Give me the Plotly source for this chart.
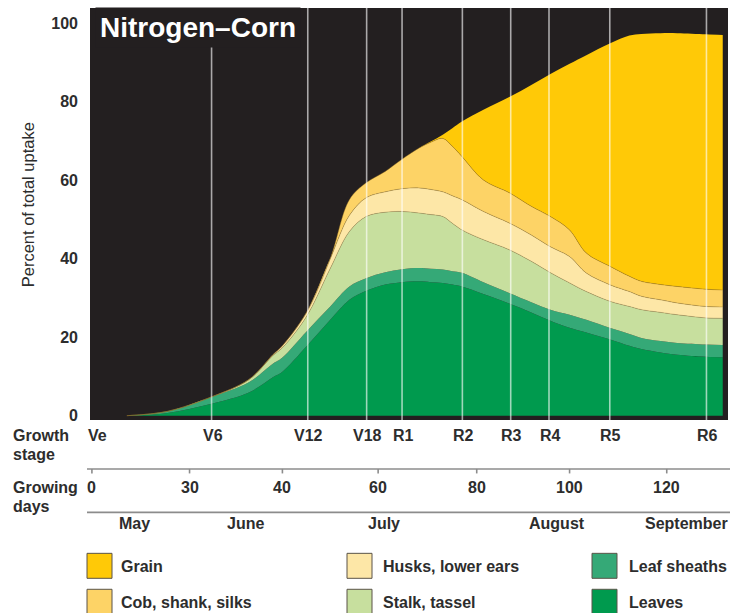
import plotly.graph_objects as go

# ---------------- data ----------------
DAYS = [7.5, 16, 25, 33, 38, 40, 45, 50, 54, 57.5, 61.5, 65, 68.5, 71, 73.5, 75.5, 77.5, 82,
        87.5, 92, 96, 100, 103.5, 108.5, 112.5, 115, 119, 122.5, 128.5, 132]

# cumulative upper edge of each layer (percent of total uptake)
LEAVES_TOP = [0, 0.7, 3.0, 5.9, 9.8, 11.2, 17.6, 24.4, 29.5, 31.8, 33.4, 34.0, 34.2, 34.0, 33.8, 33.4,
              32.9, 31.0, 28.5, 26.3, 24.2, 22.4, 21.2, 19.4, 17.8, 17.0, 16.1, 15.5, 15.0, 14.9]
SHEATHS_TOP = [0, 1.1, 4.7, 8.5, 13.2, 14.8, 21.4, 27.8, 32.9, 35.0, 36.5, 37.3, 37.6, 37.4, 37.2, 36.8,
               36.4, 34.0, 31.2, 28.9, 27.0, 25.7, 24.4, 22.3, 20.8, 19.8, 19.0, 18.5, 18.1, 18.0]
STALK_TOP = [0, 1.1, 4.7, 9.2, 15.3, 17.3, 25.2, 37.5, 46.9, 50.7, 51.8, 52.0, 51.6, 51.2, 50.7, 49.0,
             47.3, 44.8, 42.2, 39.3, 36.4, 33.8, 31.6, 29.1, 27.8, 27.0, 26.3, 25.7, 24.9, 24.8]
HUSKS_TOP = [0, 1.1, 4.7, 9.2, 15.5, 17.8, 26.2, 40.0, 51.0, 55.5, 57.0, 57.8, 58.0, 57.6, 57.0, 56.0,
             55.0, 52.0, 49.0, 46.0, 43.0, 40.5, 36.3, 33.3, 31.6, 30.4, 29.5, 28.7, 27.8, 27.7]
COB_TOP = [0, 1.1, 4.7, 9.2, 15.5, 17.8, 26.2, 40.0, 55.0, 59.3, 62.2, 65.3, 68.1, 69.6, 70.6, 68.6,
           66.0, 60.0, 56.7, 53.3, 50.7, 47.3, 41.4, 38.0, 35.5, 34.2, 33.4, 32.9, 32.2, 32.0]
GRAIN_TOP = [0, 1.1, 4.7, 9.2, 15.5, 17.8, 26.2, 40.0, 55.0, 59.3, 62.2, 65.3, 68.1, 69.8, 71.5, 73.2,
             74.9, 77.9, 81.2, 84.2, 87.0, 89.6, 91.8, 94.8, 96.8, 97.2, 97.4, 97.4, 97.1, 96.9]

LAYER_NAMES = ["Leaves", "Leaf sheaths", "Stalk, tassel", "Husks, lower ears",
               "Cob, shank, silks", "Grain"]
LAYER_TOPS = [LEAVES_TOP, SHEATHS_TOP, STALK_TOP, HUSKS_TOP, COB_TOP, GRAIN_TOP]

STAGE_LABELS = ["Ve", "V6", "V12", "V18", "R1", "R2", "R3", "R4", "R5", "R6"]
STAGE_DAYS = [0, 25.2, 45.3, 57.6, 65.0, 77.6, 87.7, 95.7, 108.4, 128.6]

DAY_TICK_LABELS = ["0", "30", "40", "60", "80", "100", "120"]
DAY_TICK_POS = [0.2, 20.6, 40.0, 60.0, 80.6, 100.0, 120.3]

MONTHS = ["May", "June", "July", "August", "September"]
MONTH_POS = [9.2, 32.3, 61.2, 97.3, 124.4]

Y_TICKS = [0, 20, 40, 60, 80, 100]

# ---------------- style ----------------
FILLS = ["#009A4E", "#35A977", "#C7DF9E", "#FDE7A7", "#FDD366", "#FFC907"]
EDGE = ["rgba(0,0,0,0)", "rgba(0,0,0,0)", "rgba(140,120,60,0.45)",
        "rgba(150,120,50,0.5)", "rgba(150,110,30,0.5)", "rgba(0,0,0,0)"]
EDGE_W = [0, 0, 0.8, 0.8, 0.8, 0]
BG = "#231F20"
TXT = "#2d2d2d"
FONT = "Liberation Sans"

W, H = 730, 613
L, R, T, B = 90, 2, 8, 192.5
PW, PH = W - L - R, H - T - B


def pxx(X):
    return (X - L) / PW


def pxy(Y):
    return (H - B - Y) / PH


fig = go.Figure()
for i, (name, top) in enumerate(zip(LAYER_NAMES, LAYER_TOPS)):
    fig.add_trace(go.Scatter(
        x=DAYS, y=top, name=name, mode="lines",
        line=dict(color=EDGE[i], width=EDGE_W[i], shape="spline", smoothing=1.0),
        fill="tozeroy" if i == 0 else "tonexty",
        fillcolor=FILLS[i], hoverinfo="skip", showlegend=False))

shapes = []
ann = []

# vertical growth-stage lines
for lab, d in zip(STAGE_LABELS, STAGE_DAYS):
    if lab != "Ve":
        shapes.append(dict(type="line", xref="x", yref="paper", x0=d, x1=d, y0=0, y1=1,
                           line=dict(color="rgba(255,255,255,0.62)", width=1.6), layer="above"))

# title inside chart
ann.append(dict(text="<b>Nitrogen–Corn</b>", xref="paper", yref="paper",
                x=pxx(95), y=pxy(28), xanchor="left", yanchor="middle", showarrow=False,
                font=dict(family=FONT, size=28, color="white"), bgcolor=BG, borderpad=4))

# y axis title
ann.append(dict(text="Percent of total uptake", xref="paper", yref="paper",
                x=pxx(27.5), y=pxy(205), xanchor="center", yanchor="middle",
                textangle=-90, showarrow=False, font=dict(family=FONT, size=16.5, color=TXT)))

bold = dict(family=FONT, size=16, color=TXT)

# growth stage row
ann.append(dict(text="<b>Growth</b>", xref="paper", yref="paper", x=pxx(11), y=pxy(436),
                xanchor="left", yanchor="middle", showarrow=False, font=bold))
ann.append(dict(text="<b>stage</b>", xref="paper", yref="paper", x=pxx(11), y=pxy(455),
                xanchor="left", yanchor="middle", showarrow=False, font=bold))
for lab, d in zip(STAGE_LABELS, STAGE_DAYS):
    ann.append(dict(text=f"<b>{lab}</b>", xref="x", yref="paper", x=d, y=pxy(436),
                    xanchor="left" if lab == "Ve" else "center",
                    xshift=-5 if lab == "Ve" else 1,
                    yanchor="middle", showarrow=False, font=bold))

# rules
rule = dict(color="#8c8c8c", width=1.6)
shapes.append(dict(type="line", xref="paper", yref="paper", x0=pxx(87), x1=pxx(730),
                   y0=pxy(469.5), y1=pxy(469.5), line=rule))
shapes.append(dict(type="line", xref="paper", yref="paper", x0=pxx(87), x1=pxx(730),
                   y0=pxy(513), y1=pxy(513), line=rule))
for d in DAY_TICK_POS:
    shapes.append(dict(type="line", xref="x", yref="paper", x0=d, x1=d,
                       y0=pxy(469.5), y1=pxy(474), line=rule))

# growing days row
ann.append(dict(text="<b>Growing</b>", xref="paper", yref="paper", x=pxx(11), y=pxy(488),
                xanchor="left", yanchor="middle", showarrow=False, font=bold))
ann.append(dict(text="<b>days</b>", xref="paper", yref="paper", x=pxx(11), y=pxy(507),
                xanchor="left", yanchor="middle", showarrow=False, font=bold))
for lab, d in zip(DAY_TICK_LABELS, DAY_TICK_POS):
    ann.append(dict(text=f"<b>{lab}</b>", xref="x", yref="paper", x=d, y=pxy(488),
                    xanchor="center", yanchor="middle", showarrow=False, font=bold))

# months
for m, d in zip(MONTHS, MONTH_POS):
    ann.append(dict(text=f"<b>{m}</b>", xref="x", yref="paper", x=d, y=pxy(524),
                    xanchor="center", yanchor="middle", showarrow=False, font=bold))

# legend (column-major: top layer first)
leg_order = list(range(len(LAYER_NAMES)))[::-1]
col_sw = [87, 347, 592]
col_tx = [119, 381, 627]
row_y = [554, 590]
for k, li in enumerate(leg_order):
    c, r = k // 2, k % 2
    y0 = row_y[r]
    shapes.append(dict(type="rect", xref="paper", yref="paper",
                       x0=pxx(col_sw[c]), x1=pxx(col_sw[c] + 25),
                       y0=pxy(y0), y1=pxy(y0 + 25),
                       fillcolor=FILLS[li], line=dict(color="#5a5348", width=1)))
    ann.append(dict(text=f"<b>{LAYER_NAMES[li]}</b>", xref="paper", yref="paper",
                    x=pxx(col_tx[c]), y=pxy(y0 + 13), xanchor="left", yanchor="middle",
                    showarrow=False, font=bold))

fig.update_layout(
    width=W, height=H, autosize=False,
    margin=dict(l=L, r=R, t=T, b=B, pad=0),
    plot_bgcolor=BG, paper_bgcolor="white",
    xaxis=dict(range=[-0.2, 133.1], visible=False, fixedrange=True),
    yaxis=dict(range=[-1.1, 103.8], tickvals=Y_TICKS,
               ticktext=[f"<b>{v}</b>" for v in Y_TICKS],
               showgrid=False, zeroline=False, showline=False, ticks="",
               ticklabelstandoff=11, tickfont=dict(family=FONT, size=16, color=TXT),
               fixedrange=True),
    shapes=shapes, annotations=ann, showlegend=False,
)

fig.write_html("out.html", config={"displayModeBar": False},
               post_script="document.body.style.margin='0';document.body.style.overflow='hidden';")
